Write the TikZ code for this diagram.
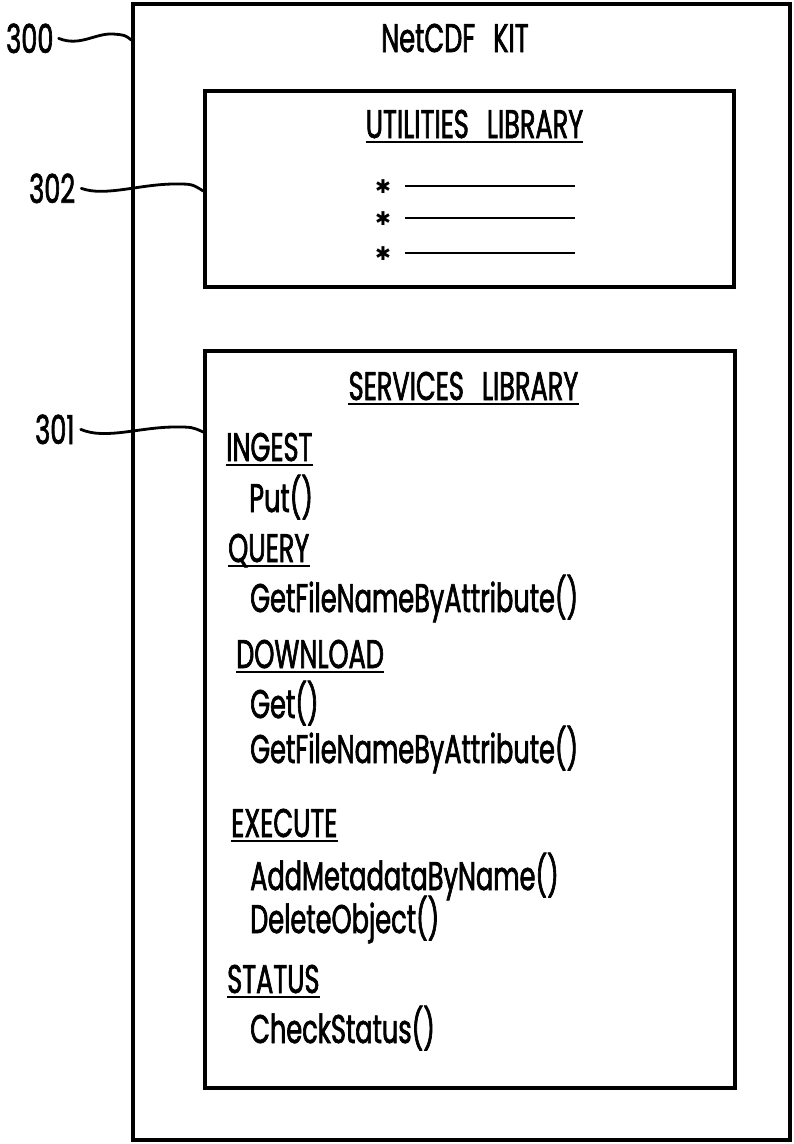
\documentclass[tikz,border=0pt]{standalone}
\usepackage{fontspec}
\setmainfont{Poppins}[FakeStretch=0.64, FakeBold=1.6]
\newfontfamily\symfont{DejaVu Sans}
\begin{document}
\begin{tikzpicture}[x=1pt,y=-1pt,
  box/.style={draw, line width=3.5pt, inner sep=0pt},
  txt/.style={anchor=base west, inner sep=0pt, font=\fontsize{40}{44}\selectfont},
  ctxt/.style={anchor=base, inner sep=0pt, font=\fontsize{40}{44}\selectfont},
  lbl/.style={anchor=base west, inner sep=0pt, font=\fontsize{40}{44}\selectfont},
  star/.style={inner sep=0pt, font=\symfont\fontsize{19}{19}\selectfont},
  lead/.style={line width=2.8pt, line cap=round},
  uline/.style={line width=2.5pt},
  blank/.style={line width=2.5pt}]
\useasboundingbox (0,0) rectangle (794,1144);

% boxes
\node[box, minimum width=657pt, minimum height=1136pt] (kit) at (461.5,572) {};
\node[box, minimum width=529pt, minimum height=196pt] (util) at (469.5,189) {};
\node[box, minimum width=530pt, minimum height=737pt] (serv) at (470,719.5) {};

% titles
\node[ctxt] (tkit) at (455,52) {NetCDF\hspace{0.45em}KIT};
\node[ctxt] (tutil) at (474.5,138) {UTILITIES\hspace{0.45em}LIBRARY};
\node[ctxt] (tserv) at (463.5,400) {SERVICES\hspace{0.45em}LIBRARY};
\foreach \n in {tutil,tserv}
  \draw[uline] ([yshift=-4pt]\n.base west) -- ([yshift=-4pt]\n.base east);

% utilities items
\foreach \i/\y in {1/186,2/218,3/253}{
  \node[star] (s\i) at (383,\y+1) {✱};
  \draw[blank] (405,\y) -- (575,\y);
}

% services items
\node[txt] (h1) at (226,461) {INGEST};
\node[txt] (f1) at (249,512) {Put()};
\node[txt] (h2) at (228,562) {QUERY};
\node[txt] (f2) at (250,612) {GetFileNameByAttribute()};
\node[txt] (h3) at (236,668) {DOWNLOAD};
\node[txt] (f3) at (250,718) {Get()};
\node[txt] (f4) at (250,763) {GetFileNameByAttribute()};
\node[txt] (h4) at (231,837) {EXECUTE};
\node[txt] (f5) at (250,890) {AddMetadataByName()};
\node[txt] (f6) at (250,933) {DeleteObject()};
\node[txt] (h5) at (227,993) {STATUS};
\node[txt] (f7) at (250,1043) {CheckStatus()};
\foreach \n in {h1,h2,h3,h4,h5}
  \draw[uline] ([yshift=-4pt]\n.base west) -- ([yshift=-4pt]\n.base east);

% reference labels
\node[lbl] (l300) at (6,53) {300};
\node[lbl] (l302) at (29,203) {302};
\node[lbl] (l301) at (35,444) {301};
\coordinate (k300) at (kit.west |- 0,40);
\coordinate (k302) at (util.west |- 0,191);
\coordinate (k301) at (serv.west |- 0,432);
\draw[lead] ([xshift=5pt]l300.east) .. controls (80,47) and (95,33) .. (113,34) .. controls (125,35) .. (k300);
\draw[lead] ([xshift=6pt]l302.east) .. controls (105,197) and (140,184) .. (175,184) .. controls (192,184) .. (k302);
\draw[lead] ([xshift=6pt]l301.east) .. controls (105,440) and (140,427) .. (175,427) .. controls (192,427) .. (k301);
\end{tikzpicture}
\end{document}
